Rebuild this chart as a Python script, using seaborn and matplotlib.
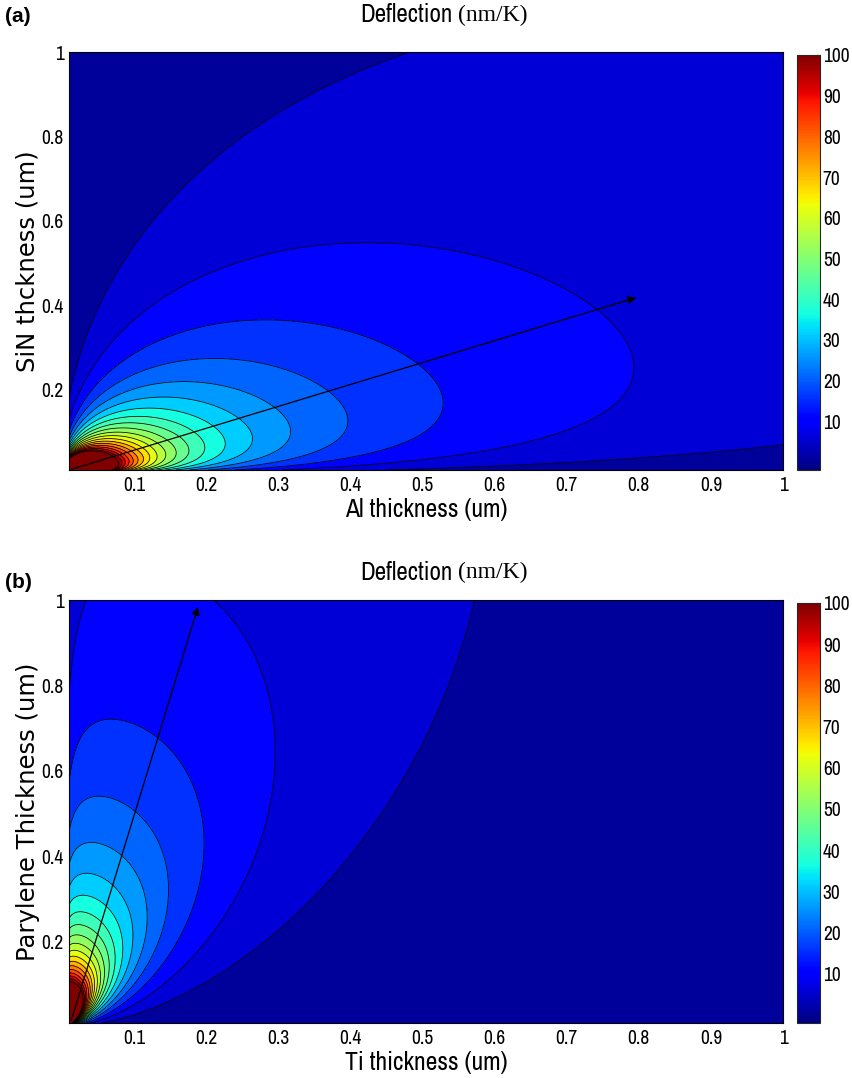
import numpy as np
import matplotlib
matplotlib.use("Agg")
import matplotlib.pyplot as plt
import seaborn as sns
from matplotlib.colors import Normalize
from matplotlib.cm import ScalarMappable
from matplotlib import font_manager

# Materiaux (bimorphe, modele de Timoshenko)
materials = ["Al", "SiN", "Ti", "Parylene"]
youngs_GPa = [70.0, 190.0, 110.0, 3.15]
cte_ppm = [23.1, 2.3, 8.6, 30.9]
beam_length_um = 27.0

thickness_um = np.linspace(0.01, 1.0, 500)
contour_levels = list(range(0, 105, 5))
cbar_ticks = list(range(10, 110, 10))
x_ticks = [0.1, 0.2, 0.3, 0.4, 0.5, 0.6, 0.7, 0.8, 0.9, 1.0]
x_ticklabels = ["0.1", "0.2", "0.3", "0.4", "0.5", "0.6", "0.7", "0.8", "0.9", "1"]
y_ticks = [0.2, 0.4, 0.6, 0.8, 1.0]
y_ticklabels = ["0.2", "0.4", "0.6", "0.8", "1"]

# (couche 1 en x, couche 2 en y, xlabel, ylabel, lettre)
panels = [
    ("Al", "SiN", "Al thickness (um)", "SiN thckness (um)", "(a)"),
    ("Ti", "Parylene", "Ti thickness (um)", "Parylene Thickness (um)", "(b)"),
]
arrow_start = [(0.01, 0.01), (0.012, 0.01)]
arrow_tip = [(0.80, 0.42), (0.19, 0.99)]


def deflection(t1, t2, E1, E2, a1, a2, L):
    m = t1 / t2
    n = E1 / E2
    h = t1 + t2
    kappa = 6 * (a1 - a2) * 1e-6 * (1 + m) ** 2 / (
        h * (3 * (1 + m) ** 2 + (1 + m * n) * (m ** 2 + 1 / (m * n))))
    return np.abs(kappa) * L ** 2 / 2 * 1000  # nm/K


sns.set_style("ticks")

# police etroite (style Helvetica etire de matlab)
names = {f.name for f in font_manager.fontManager.ttflist}
base = "Liberation Sans"
for cand in ["Liberation Sans Narrow", "Archivo Narrow"]:
    if cand in names:
        base = cand
        break
plt.rcParams["font.family"] = [base, "DejaVu Sans"]
plt.rcParams["text.color"] = "black"
plt.rcParams["axes.labelcolor"] = "black"
plt.rcParams["xtick.color"] = "black"
plt.rcParams["ytick.color"] = "black"
plt.rcParams["xtick.direction"] = "in"
plt.rcParams["ytick.direction"] = "in"

jet = matplotlib.colormaps["jet"]

fig = plt.figure(figsize=(8.52, 10.78), dpi=100)
W, H = 852, 1078
ax_boxes = [(69, 52, 783, 470), (69, 600, 783, 1023)]
title_y = [15, 572]
letter_y = [17, 583]

for i, (m1, m2, xlab, ylab, letter) in enumerate(panels):
    x0, y0, x1, y1 = ax_boxes[i]
    ax = fig.add_axes([x0 / W, 1 - y1 / H, (x1 - x0) / W, (y1 - y0) / H])
    cax = fig.add_axes([797 / W, 1 - y1 / H, 23 / W, (y1 - y0 - 3) / H])

    k1, k2 = materials.index(m1), materials.index(m2)
    X, Y = np.meshgrid(thickness_um, thickness_um)
    Z = deflection(X, Y, youngs_GPa[k1], youngs_GPa[k2], cte_ppm[k1], cte_ppm[k2], beam_length_um)

    fill_levels = contour_levels + [max(Z.max(), 100) + 1]
    fill_colors = [jet(min(l + 2.5, 100) / 100) for l in contour_levels]
    ax.contourf(X, Y, Z, levels=fill_levels, colors=fill_colors)
    ax.contour(X, Y, Z, levels=contour_levels[1:], colors="k", linewidths=0.55)

    ax.annotate("", xy=arrow_tip[i], xytext=arrow_start[i],
                arrowprops=dict(arrowstyle="-|>", color="k", lw=0.9, mutation_scale=12),
                annotation_clip=False)

    ax.set_xlim(0.01, 1)
    ax.set_ylim(0.01, 1)
    ax.set_xticks(x_ticks)
    ax.set_xticklabels(x_ticklabels)
    ax.set_yticks(y_ticks)
    ax.set_yticklabels(y_ticklabels)
    ax.tick_params(top=True, right=True, length=5, width=0.6, labelsize=14, pad=4)
    for s in ax.spines.values():
        s.set_linewidth(0.8)
        s.set_color("k")

    ax.set_xlabel(xlab, fontsize=18.5)
    ax.xaxis.set_label_coords(0.5, -40 / (y1 - y0))
    ax.xaxis.label.set_va("center")
    ax.set_ylabel(ylab, fontsize=17.5, family=["DejaVu Sans"])
    ax.yaxis.set_label_coords(-0.041, 0.5)

    sm = ScalarMappable(norm=Normalize(-2, 100), cmap=jet)
    cb = fig.colorbar(sm, cax=cax, ticks=cbar_ticks)
    cb.outline.set_linewidth(0.8)
    cax.tick_params(direction="in", length=3, labelsize=14, pad=2)

    ty = 1 - title_y[i] / H
    fig.text(452 / W, ty, "Deflection", ha="right", va="center", fontsize=18)
    fig.text(458 / W, ty, "(nm/K)", ha="left", va="center", fontsize=17,
             family=["Liberation Serif", "DejaVu Serif"])
    fig.text(5 / W, 1 - letter_y[i] / H, letter, ha="left", va="center",
             fontsize=15, fontweight="bold", family=["Liberation Sans", "DejaVu Sans"])

fig.savefig("out.png", dpi=100)
